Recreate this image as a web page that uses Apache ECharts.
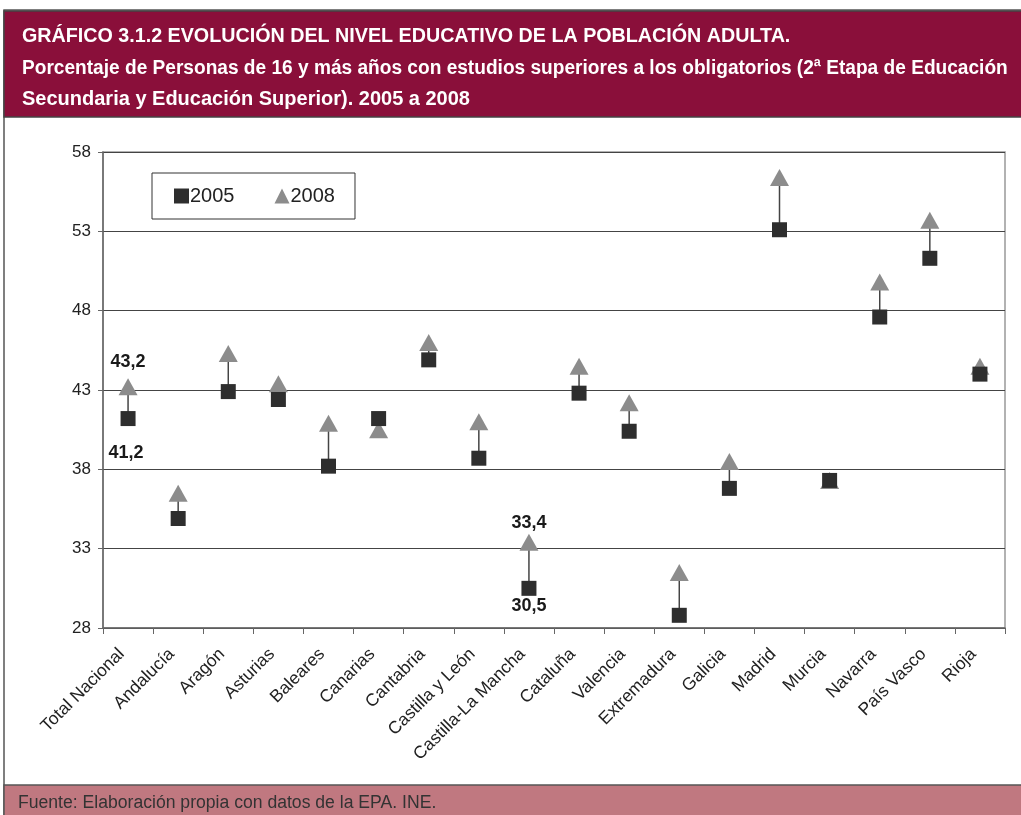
<!DOCTYPE html>
<html><head><meta charset="utf-8">
<script src="https://cdn.jsdelivr.net/npm/echarts@6/dist/echarts.min.js"></script>
<style>html,body{margin:0;padding:0;background:#fff}#c{width:1021px;height:815px}</style>
</head><body><div id="c"></div>
<script>
const categories = ["Total Nacional","Andalucía","Aragón","Asturias","Baleares","Canarias","Cantabria","Castilla y León","Castilla-La Mancha","Cataluña","Valencia","Extremadura","Galicia","Madrid","Murcia","Navarra","País Vasco","Rioja"];
const v2005 = [41.2,34.9,42.9,42.4,38.2,41.2,44.9,38.7,30.5,42.8,40.4,28.8,36.8,53.1,37.3,47.6,51.3,44.0];
const v2008 = [43.2,36.5,45.3,43.4,40.9,40.5,46.0,41.0,33.4,44.5,42.2,31.5,38.5,56.4,37.3,49.8,53.7,44.5];
const yTicks = [28,33,38,43,48,53,58];
const labelled2005 = {0:"41,2", 8:"30,5"};
const labelled2008 = {0:"43,2", 8:"33,4"};

const chart = echarts.init(document.getElementById('c'));
const headFont = '"Liberation Sans",Arial,sans-serif';
const bodyFont = '"Liberation Sans",Arial,sans-serif';

const lineData = categories.map((c,i)=>[i, v2005[i], v2008[i]]);

chart.setOption({
  animation:false,
  backgroundColor:'#fff',
  graphic:[
    {type:'rect', shape:{x:4,y:10,width:1020,height:806}, style:{fill:'#fff',stroke:'#555',lineWidth:1.5}, z:-10},
    {type:'rect', shape:{x:4,y:11,width:1020,height:106}, style:{fill:'#8A0F3A',stroke:'#444',lineWidth:1.5}, z:-9},
    {type:'rect', shape:{x:4,y:785,width:1020,height:32}, style:{fill:'#C07880',stroke:'#555',lineWidth:1.5}, z:-9},
    {type:'text', x:22, y:26, scaleX:0.985, style:{text:'GRÁFICO 3.1.2 EVOLUCIÓN DEL NIVEL EDUCATIVO DE LA POBLACIÓN ADULTA.', fill:'#fff', font:'bold 20px '+headFont}},
    {type:'text', x:22, y:58, scaleX:0.955, style:{text:'Porcentaje de Personas de 16 y más años con estudios superiores a los obligatorios (2ª Etapa de Educación', fill:'#fff', font:'bold 20px '+headFont}},
    {type:'text', x:22, y:89, style:{text:'Secundaria y Educación Superior). 2005 a 2008', fill:'#fff', font:'bold 20px '+headFont}},
    {type:'text', x:18, y:794, style:{text:'Fuente: Elaboración propia con datos de la EPA. INE.', fill:'#333', font:'17.6px '+headFont}}
  ],
  legend:{
    left:152, top:173, width:206, height:46,
    padding:[13,20,13,22], itemGap:40,
    borderColor:'#333', borderWidth:1, backgroundColor:'#fff',
    itemWidth:15, itemHeight:15,
    textStyle:{fontSize:20, color:'#222', fontFamily:bodyFont, padding:[0,0,0,-4]},
    data:[{name:'2005', icon:'rect'},{name:'2008', icon:'triangle'}]
  },
  grid:{left:103, right:16, top:152, bottom:187, show:true, borderColor:'#999', borderWidth:1.5},
  xAxis:{
    type:'category', data:categories, boundaryGap:true,
    axisLine:{lineStyle:{color:'#666', width:1.5}},
    axisTick:{show:true, length:6, lineStyle:{color:'#666'}},
    axisLabel:{rotate:45, fontSize:17.5, color:'#222', fontFamily:bodyFont, margin:17, padding:[0,9,0,0], interval:0},
    splitLine:{show:false}
  },
  yAxis:{
    type:'value', min:28, max:58, interval:5,
    axisLine:{show:true, lineStyle:{color:'#666', width:1.5}},
    axisTick:{show:true, length:5, lineStyle:{color:'#666'}},
    axisLabel:{fontSize:17, color:'#222', fontFamily:bodyFont, margin:12},
    splitLine:{show:true, lineStyle:{color:'#444', width:1}}
  },
  series:[
    {type:'custom', name:'conn', z:1, data:lineData, silent:true,
     renderItem:(params, api)=>{
       const p1 = api.coord([api.value(0), api.value(1)]);
       const p2 = api.coord([api.value(0), api.value(2)]);
       return {type:'line', shape:{x1:p1[0],y1:p1[1],x2:p2[0],y2:p2[1]}, style:{stroke:'#444', lineWidth:1.5}};
     }},
    {type:'scatter', name:'2008', z:3, symbol:'triangle', symbolSize:[19,17], itemStyle:{color:'#8C8C8C', opacity:1},
     data:v2008.map((v,i)=>({value:v, label: labelled2008[i]!==undefined ? {show:true, formatter:labelled2008[i], position:'top', distance: i===0?7:2, fontSize:18, fontWeight:'bold', color:'#1a1a1a', fontFamily:bodyFont} : {show:false}}))},
    {type:'scatter', name:'2005', z:4, symbol:'rect', symbolSize:15, itemStyle:{color:'#2E2E2E', opacity:1},
     data:v2005.map((v,i)=>({value:v, label: labelled2005[i]!==undefined ? {show:true, formatter:labelled2005[i], position:'bottom', distance: i===0?18:1, fontSize:18, fontWeight:'bold', color:'#1a1a1a', fontFamily:bodyFont, offset: i===0?[-2,0]:[0,0]} : {show:false}}))}
  ]
});
</script></body></html>
